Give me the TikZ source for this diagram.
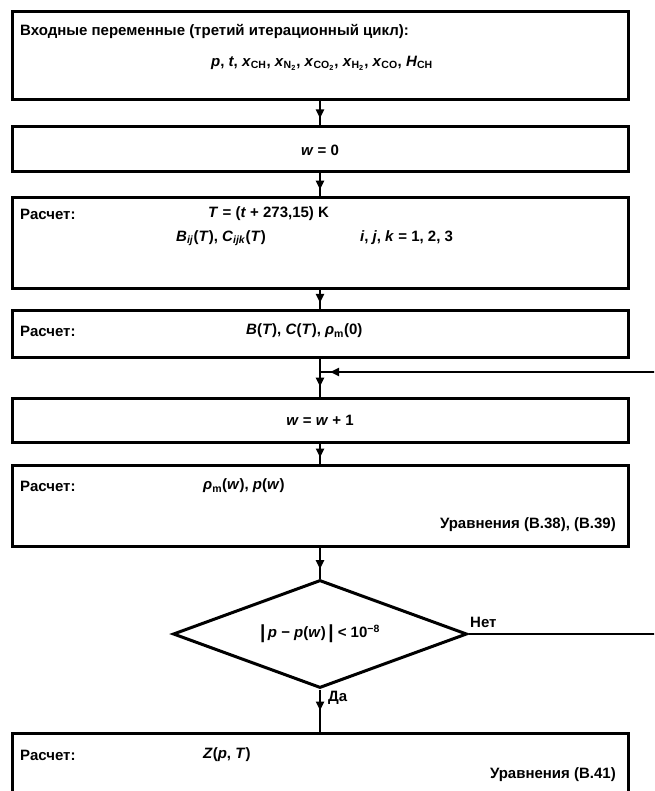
\documentclass[tikz,border=0pt]{standalone}
\usepackage{fontspec}
\setmainfont{Liberation Sans}
\usetikzlibrary{arrows.meta,decorations.markings,shapes.geometric}
\newcommand\sbs[1]{\textsubscript{#1}}
\newcommand\spr[1]{\textsuperscript{#1}}
\tikzset{
  box/.style={draw, line width=3pt, minimum width=616pt, inner sep=0pt},
  txt/.style={inner sep=0pt, font=\fontsize{15}{17}\selectfont\bfseries},
  link/.style={line width=2.6pt, postaction={decorate},
    decoration={markings, mark=at position #1 with {\arrow{Triangle[length=9pt,width=8pt]}}}},
  link/.default=0.7
}
\begin{document}
\begin{tikzpicture}[x=1pt,y=-1pt]
\clip (0,0) rectangle (654,791);
\fill[white] (0,0) rectangle (654,791);
% boxes
\node[box, minimum height=88pt] (b1) at (320,56) {};
\node[box, minimum height=45pt] (b2) at (320,149.5) {};
\node[box, minimum height=90pt] (b3) at (320,243) {};
\node[box, minimum height=47pt] (b4) at (320,333.5) {};
\node[box, minimum height=44pt] (b5) at (320,420) {};
\node[box, minimum height=81pt] (b6) at (320,505.5) {};
\node[draw, line width=3pt, shape=diamond, inner sep=0pt, minimum width=294pt, minimum height=108pt] (d) at (320,634) {};
\node[box, minimum height=100pt] (b7) at (320,783) {};
% texts
\node[txt, anchor=west] (t1a) at (20,31) {Входные переменные (третий итерационный цикл):};
\node[txt] (t1b) at (322,63) {\textit{p}, \textit{t}, \textit{x}\sbs{CH}, \textit{x}\sbs{N\sbs{2}}, \textit{x}\sbs{CO\sbs{2}}, \textit{x}\sbs{H\sbs{2}}, \textit{x}\sbs{CO}, \textit{H}\sbs{CH}};
\node[txt] (t2) at (320,150) {\textit{w} = 0};
\node[txt, anchor=west] (t3a) at (20,214) {Расчет:};
\node[txt, anchor=west] (t3b) at (208,214) {\textit{T} = (\textit{t} + 273,15) K};
\node[txt, anchor=west] (t3c) at (176,238) {\textit{B}\sbs{\textit{ij}}(\textit{T}), \textit{C}\sbs{\textit{ijk}}(\textit{T})};
\node[txt, anchor=west] (t3d) at (360,238) {\textit{i}, \textit{j}, \textit{k} = 1, 2, 3};
\node[txt, anchor=west] (t4a) at (20,331) {Расчет:};
\node[txt, anchor=west] (t4b) at (246,331) {\textit{B}(\textit{T}), \textit{C}(\textit{T}), \textit{ρ}\sbs{m}(0)};
\node[txt] (t5) at (320,420) {\textit{w} = \textit{w} + 1};
\node[txt, anchor=west] (t6a) at (20,486) {Расчет:};
\node[txt, anchor=west] (t6b) at (203,486) {\textit{ρ}\sbs{m}(\textit{w}), \textit{p}(\textit{w})};
\node[txt, anchor=east] (t6c) at (616,525) {Уравнения (В.38), (В.39)};
\node[txt] (td) at (320,634) {\raisebox{-1pt}{\fontsize{19}{19}\selectfont|}\,\textit{p} − \textit{p}(\textit{w})\,\raisebox{-1pt}{\fontsize{19}{19}\selectfont|} < 10\spr{−8}};
\node[txt, anchor=south west] (tno) at (470,628) {Нет};
\node[txt, anchor=west] (tyes) at (328,698) {Да};
\node[txt, anchor=west] (t7a) at (20,755) {Расчет:};
\node[txt, anchor=west] (t7b) at (203,755) {\textit{Z}(\textit{p}, \textit{T})};
\node[txt, anchor=east] (t7c) at (616,775) {Уравнения (В.41)};
% connectors
\coordinate (m) at (320,372);
\coordinate (fb) at (660,372);
\coordinate (no) at (660,634);
\draw[link] (b1.south) -- (b2.north);
\draw[link] (b2.south) -- (b3.north);
\draw[link] (b3.south) -- (b4.north);
\draw[line width=2.6pt] (b4.south) -- (m);
\draw[link=0.6] (m) -- (b5.north);
\draw[link=0.97] (fb) -- (m);
\draw[link] (b5.south) -- (b6.north);
\draw[link] (b6.south) -- (d.north);
\draw[link=0.5] (d.south) -- (b7.north);
\draw[line width=2.6pt] (d.east) -- (no);
\end{tikzpicture}
\end{document}
